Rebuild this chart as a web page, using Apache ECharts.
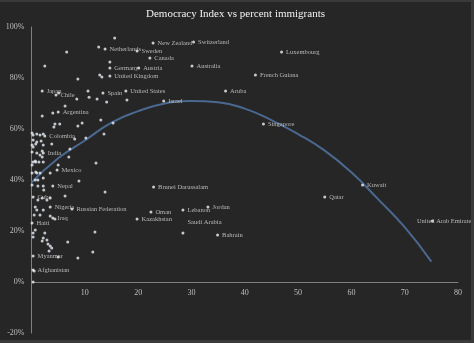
<!DOCTYPE html>
<html><head><meta charset="utf-8">
<script src="https://cdn.jsdelivr.net/npm/echarts@6/dist/echarts.min.js"></script>
<style>
html,body{margin:0;padding:0;background:#3a3a3a;width:474px;height:343px;overflow:hidden}
#c{position:absolute;left:0;top:2px;width:471px;height:338px;background:#262626}
</style></head><body><div id="c"></div>
<script>
const titleText = 'Democracy Index vs percent immigrants';
const xTicks = [0,10,20,30,40,50,60,70,80];
const yTicks = [-20,0,20,40,60,80,100];

const labeledNames = ['Netherlands','Sweden','New Zealand','Switzerland','Luxembourg','Canada','Australia','Germany','Austria','United Kingdom','French Guiana','Aruba','Israel','Spain','United States','Japan','Chile','Argentina','Colombia','India','Mexico','Nepal','Cuba','Nigeria','Russian Federation','Iraq','Haiti','Myanmar','Afghanistan','Brunei Darussalam','Oman','Kazakhstan','Lebanon','Jordan','Saudi Arabia','Bahrain','Singapore','Qatar','Kuwait','United Arab Emirates'];
const labeledX = [13.8,19.8,22.8,30.4,46.9,22.2,30.1,14.7,20.1,14.7,42.0,36.4,24.8,13.4,17.7,2.0,4.6,5.0,2.5,2.2,4.8,4.0,0.3,3.5,7.6,4.0,0.1,0.3,0.3,22.9,22.4,19.8,28.4,33.1,28.4,34.9,43.5,55.0,62.1,75.2];
const labeledY = [91.4,90.6,93.7,94.1,90.2,87.8,84.7,83.9,83.9,80.8,81.2,74.9,71.0,74.1,74.9,74.9,73.3,66.7,57.3,50.6,43.9,37.6,33.3,29.4,28.6,25.1,23.1,10.2,4.7,37.3,27.5,24.7,28.2,29.4,19.2,18.4,62.0,33.3,38.0,23.9];

const otherX = [15.6,12.6,6.6,2.5,14.7,12.8,13.2,8.7,5.1,10.6,10.8,12.3,14.1,17.9,8.5,6.3,4.0,2.0,9.5,8.7,4.4,5.3,4.2,13.0,15.3,13.6,10.2,8.1,7.2,7.0,3.8,12.1,5.0,3.5,1.6,0.8,2.2,1.2,8.9,2.2,2.3,6.3,13.8,1.2,2.0,2.9,3.5,0.7,1.0,2.2,0.5,1.6,3.5,4.4,0.7,0.3,0.3,2.5,2.2,2.0,2.9,3.1,3.5,3.8,3.3,6.8,11.9,11.5,8.7,5.0,0.5,0.3,0.1,0.3,1.0,1.6,2.2,0.3,1.0,1.8,0.1,0.8,2.2,0.3,0.1,1.0,1.6,2.0,0.3,0.8,1.4,2.2,0.1,2.0,0.7,0.1,1.0,0.7,0.1,1.2];
const otherY = [95.7,92.2,90.2,84.7,86.3,81.2,80.4,79.6,74.1,74.9,72.5,71.8,70.6,71.4,71.8,69.0,66.3,65.1,62.4,61.2,62.0,62.0,60.8,63.5,62.4,58.0,56.5,56.1,52.2,49.0,54.1,46.7,45.9,42.7,42.7,43.1,40.8,40.0,39.6,37.6,36.1,33.7,35.3,32.2,32.9,32.2,32.9,29.4,28.2,28.2,26.3,26.3,25.9,24.7,20.4,19.2,17.6,19.2,17.3,16.1,16.5,14.9,14.1,13.3,12.2,15.7,19.6,11.8,9.4,9.8,4.3,0.0,58.4,57.6,58.0,57.6,58.0,55.7,54.9,55.3,53.7,54.1,53.7,52.9,51.0,50.6,49.8,51.4,47.1,47.1,47.1,47.1,45.9,49.0,47.5,42.7,42.7,40.0,38.0,37.6];

const trendX = [0,5,10,15,20,25,30,35,40,45,50,55,60,65,70,75];
const trendY = [39,48.5,55.5,62.5,67,70,71,70.5,68,63.5,58,51.5,43,32.5,21.5,8];

// label placement tweaks (style only)
const labelOffsets = {'Saudi Arabia':[0,-11],'United Arab Emirates':[-20,0]};

const chart = echarts.init(document.getElementById('c'));
const serif = 'Liberation Serif, Times New Roman, serif';
const lblStyle = {show:true, position:'right', distance:3, color:'#d9d9d9', fontSize:6.5, fontFamily:serif, formatter:'{b}'};
const xMin = xTicks[0], xMax = xTicks[xTicks.length-1];
chart.setOption({
  animation:false,
  backgroundColor:'#262626',
  title:{text:titleText, left:'center', top:2, textStyle:{color:'#f2f2f2', fontSize:11, fontWeight:'normal', fontFamily:serif}},
  grid:[
    {left:31.5, right:13, top:25, bottom:7, outerBoundsMode:'none', containLabel:false},
    {left:31.5, right:13, top:25, bottom:58, outerBoundsMode:'none', containLabel:false}
  ],
  xAxis:[
    {type:'value', gridIndex:0, min:xMin, max:xMax, interval:10,
     axisLine:{show:false}, axisTick:{show:false}, splitLine:{show:false}, axisLabel:{show:false}},
    {type:'value', gridIndex:1, min:xMin, max:xMax, interval:10, position:'bottom',
     axisLine:{show:true, onZero:false, lineStyle:{color:'#808080', width:1}}, axisTick:{show:false}, splitLine:{show:false},
     axisLabel:{color:'#bfbfbf', fontSize:8, fontFamily:serif, margin:7, formatter:v=>v===0?'':String(v)}}
  ],
  yAxis:[
    {type:'value', gridIndex:0, min:yTicks[0], max:yTicks[yTicks.length-1], interval:20,
     axisLine:{show:true, lineStyle:{color:'#808080', width:1}}, axisTick:{show:false}, splitLine:{show:false},
     axisLabel:{color:'#bfbfbf', fontSize:8, fontFamily:serif, margin:7, formatter:'{value}%'}},
    {type:'value', gridIndex:1, min:0, max:100, show:false}
  ],
  series:[
    {type:'line', smooth:true, symbol:'none', data:trendX.map((x,i)=>[x,trendY[i]]),
     lineStyle:{color:'#4a6890', width:2}, z:1},
    {type:'scatter', symbolSize:3, itemStyle:{color:'#e8eef7'}, data:otherX.map((x,i)=>[x,otherY[i]]), z:3},
    {type:'scatter', symbolSize:3, itemStyle:{color:'#f2f2f2'}, z:4,
     data:labeledNames.map((n,i)=>({name:n, value:[labeledX[i],labeledY[i]]})),
     label:lblStyle,
     labelLayout:function(p){
       const off = labelOffsets[labeledNames[p.dataIndex]];
       return off ? {dx:off[0], dy:off[1], hideOverlap:false} : {hideOverlap:false};
     }}
  ]
});
</script></body></html>
